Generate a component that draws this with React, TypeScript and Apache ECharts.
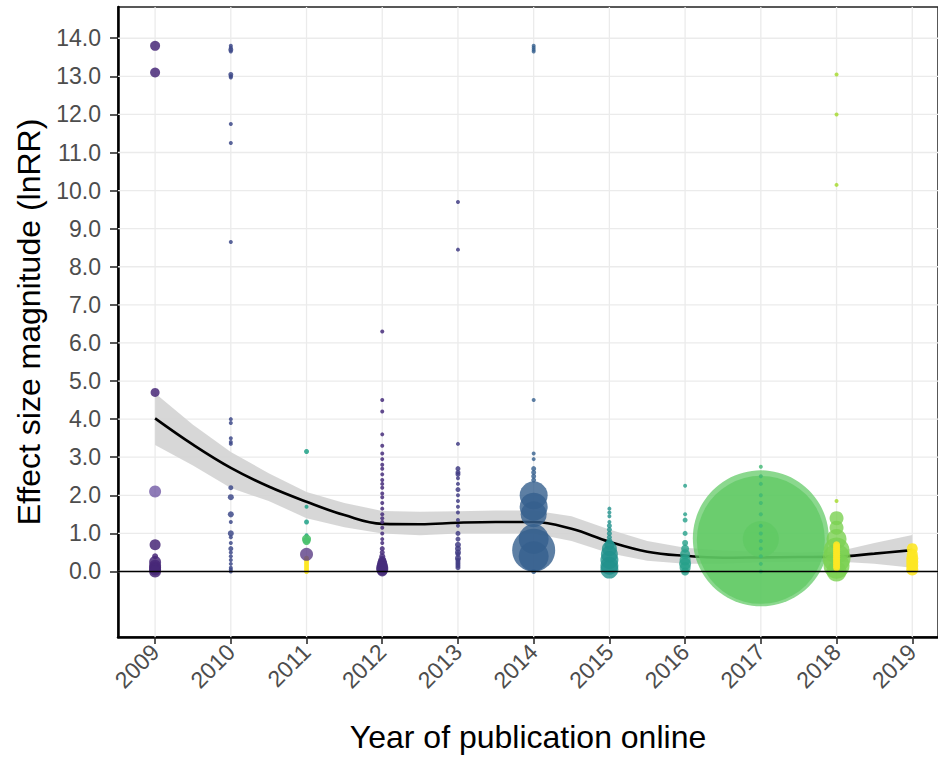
import React, { useEffect, useRef } from "react";
import * as echarts from "echarts";

const FONT = "'Liberation Sans', Arial, sans-serif";

const years = [2009, 2010, 2011, 2012, 2013, 2014, 2015, 2016, 2017, 2018, 2019];
const yTicks = [0, 1, 2, 3, 4, 5, 6, 7, 8, 9, 10, 11, 12, 13, 14];

// loess fit and confidence band
const fitX = [2009, 2009.5, 2010, 2010.5, 2011, 2011.5, 2012, 2012.5, 2013, 2013.5, 2014, 2014.5, 2015, 2015.5, 2016, 2016.5, 2017, 2017.5, 2018, 2018.5, 2019];
const fitY = [4.02, 3.33, 2.72, 2.23, 1.83, 1.48, 1.25, 1.24, 1.28, 1.3, 1.3, 1.12, 0.78, 0.52, 0.41, 0.36, 0.37, 0.38, 0.39, 0.47, 0.56];
const fitUpper = [4.68, 3.85, 3.14, 2.58, 2.09, 1.8, 1.59, 1.57, 1.58, 1.6, 1.6, 1.45, 1.1, 0.8, 0.62, 0.55, 0.52, 0.5, 0.52, 0.75, 0.96];
const fitLower = [3.32, 2.78, 2.19, 1.85, 1.4, 1.16, 1.0, 0.95, 1.0, 1.0, 1.0, 0.8, 0.48, 0.28, 0.2, 0.2, 0.24, 0.25, 0.26, 0.2, 0.1];

// effect sizes (lnRR) and point sizes per study group
const g2009Vals = [13.8, 13.1, 4.7, 0.7, 0.4, 0.25, 0.15, 0.1, 0.05, 0.0];
const g2009Size = [10, 10, 9, 11, 6, 12, 12, 12, 12, 12];
const g2009bVals = [2.1];
const g2009bSize = [12];

const g2010Vals = [13.8, 13.75, 13.7, 13.65, 13.05, 13.0, 12.97, 11.75, 11.25, 8.65, 4.0, 3.9, 3.5, 3.4, 3.35, 2.2, 1.95, 1.5, 1.3, 1.0, 0.9, 0.75, 0.6, 0.5, 0.4, 0.3, 0.2, 0.1, 0.05, 0.0];
const g2010Size = [4, 4, 5, 4, 5, 4, 4, 4, 4, 4, 4, 4, 4, 4, 4, 5, 6, 6, 4, 6, 4, 4, 5, 4, 4, 4, 4, 4, 4, 4];

const g2011aVals = [3.15, 1.7, 1.3, 0.95];
const g2011aSize = [5, 4, 5, 4];
const g2011bVals = [0.85, 0.8];
const g2011bSize = [9, 8];
const g2011cVals = [0.0, 0.05, 0.1, 0.15, 0.2, 0.25, 0.3, 0.35];
const g2011cSize = [5, 5, 5, 5, 5, 5, 5, 5];
const g2011dVals = [0.45];
const g2011dSize = [13];

const g2012Vals = [6.3, 4.5, 4.2, 3.6, 3.3, 3.1, 2.95, 2.8, 2.7, 2.55, 2.4, 2.3, 2.2, 2.05, 1.95, 1.8, 1.65, 1.5, 1.4, 1.3, 1.15, 1.0, 0.85, 0.75, 0.6, 0.5, 0.4, 0.3, 0.25, 0.2, 0.15, 0.1, 0.05, 0.0];
const g2012Size = [4, 4, 4, 4, 4, 4, 4, 4, 4, 4, 4, 4, 4, 4, 4, 4, 4, 4, 4, 4, 4, 4, 4, 4, 5, 5, 6, 8, 9, 10, 11, 12, 12, 10];

const g2013Vals = [9.7, 8.45, 3.35, 2.7, 2.6, 2.55, 2.45, 2.3, 2.15, 2.0, 1.85, 1.7, 1.55, 1.35, 1.2, 1.0, 0.85, 0.7, 0.6, 0.5, 0.45, 0.35, 0.3, 0.25, 0.2, 0.15, 0.1];
const g2013Size = [4, 4, 4, 5, 5, 5, 4, 4, 5, 4, 4, 4, 4, 4, 4, 5, 5, 6, 6, 6, 5, 6, 5, 5, 5, 5, 5];

const g2014Vals = [13.8, 13.75, 13.7, 13.65, 4.5, 3.1, 2.95, 2.7, 2.6, 2.5, 2.4, 2.0, 1.7, 1.5, 0.85, 0.56, 0.4, 0.0];
const g2014Size = [4, 4, 4, 4, 4, 4, 4, 5, 5, 5, 5, 28, 28, 26, 30, 43, 30, 5];

const g2015Vals = [1.65, 1.55, 1.45, 1.3, 1.2, 1.1, 1.0, 0.9, 0.8, 0.7, 0.6, 0.45, 0.3, 0.15, 0.05];
const g2015Size = [4, 4, 4, 4, 5, 5, 5, 5, 6, 10, 15, 17, 18, 18, 18];

const g2016Vals = [2.25, 1.5, 1.35, 1.0, 0.75, 0.6, 0.45, 0.3, 0.2, 0.1, 0.0];
const g2016Size = [4, 4, 5, 5, 6, 8, 10, 11, 12, 11, 8];

const g2017aVals = [0.87, 0.83, 0.85];
const g2017aSize = [136, 128, 36];
const g2017bVals = [2.75, 2.5, 2.3, 2.0, 1.8, 1.5, 1.2, 1.0, 0.8, 0.6, 0.4, 0.2, 0.0];
const g2017bSize = [4, 4, 4, 4, 4, 4, 4, 4, 4, 4, 4, 4, 4];

const g2018aVals = [1.4, 1.15, 0.85, 0.55, 0.35, 0.15, 0.0];
const g2018aSize = [14, 14, 20, 26, 28, 26, 20];
const g2018bVals = [13.05, 12.0, 10.15, 1.85];
const g2018bSize = [4, 4, 4, 4];
const g2018cVals = [0.1, 0.15, 0.2, 0.25, 0.3, 0.35, 0.4, 0.45, 0.5, 0.55, 0.6, 0.65, 0.7];
const g2018cSize = [7, 7, 7, 7, 7, 7, 7, 7, 7, 7, 7, 7, 7];

const g2019Vals = [0.6, 0.45, 0.35, 0.25, 0.15, 0.05];
const g2019Size = [11, 11, 12, 12, 12, 12];

type Group = { year: number; vals: number[]; sizes: number[]; color: string; opacity: number };

const groups: Group[] = [
  { year: 2009, vals: g2009Vals, sizes: g2009Size, color: "#482878", opacity: 0.85 },
  { year: 2009, vals: g2009bVals, sizes: g2009bSize, color: "#6a50a0", opacity: 0.75 },
  { year: 2010, vals: g2010Vals, sizes: g2010Size, color: "#3e4a89", opacity: 0.85 },
  { year: 2011, vals: g2011cVals, sizes: g2011cSize, color: "#fde725", opacity: 0.9 },
  { year: 2011, vals: g2011aVals, sizes: g2011aSize, color: "#1fa187", opacity: 0.85 },
  { year: 2011, vals: g2011bVals, sizes: g2011bSize, color: "#4ac16d", opacity: 0.9 },
  { year: 2011, vals: g2011dVals, sizes: g2011dSize, color: "#5b3d86", opacity: 0.8 },
  { year: 2012, vals: g2012Vals, sizes: g2012Size, color: "#472d7b", opacity: 0.85 },
  { year: 2013, vals: g2013Vals, sizes: g2013Size, color: "#433e85", opacity: 0.85 },
  { year: 2014, vals: g2014Vals, sizes: g2014Size, color: "#355f8d", opacity: 0.8 },
  { year: 2015, vals: g2015Vals, sizes: g2015Size, color: "#21918c", opacity: 0.8 },
  { year: 2016, vals: g2016Vals, sizes: g2016Size, color: "#26a08a", opacity: 0.8 },
  { year: 2017, vals: g2017aVals, sizes: g2017aSize, color: "#5ec962", opacity: 0.72 },
  { year: 2017, vals: g2017bVals, sizes: g2017bSize, color: "#3fb873", opacity: 0.8 },
  { year: 2018, vals: g2018aVals, sizes: g2018aSize, color: "#7ad151", opacity: 0.8 },
  { year: 2018, vals: g2018bVals, sizes: g2018bSize, color: "#a8db34", opacity: 0.85 },
  { year: 2018, vals: g2018cVals, sizes: g2018cSize, color: "#fde725", opacity: 0.9 },
  { year: 2019, vals: g2019Vals, sizes: g2019Size, color: "#fde725", opacity: 0.9 },
];

const X_MIN = 2008.51;
const X_MAX = 2019.34;
const Y_MIN = -1.72;
const Y_MAX = 14.82;

export default function App() {
  const ref = useRef<HTMLDivElement>(null);
  useEffect(() => {
    if (!ref.current) return;
    const chart = echarts.init(ref.current, null, { renderer: "svg" });

    const scatterSeries = groups.map((g) => ({
      type: "scatter",
      z: 5,
      data: g.vals.map((v, i) => [g.year, v, g.sizes[i]]),
      symbolSize: (d: number[]) => d[2],
      itemStyle: { color: g.color, opacity: g.opacity },
      silent: true,
    }));

    const option: any = {
      animation: false,
      backgroundColor: "#ffffff",
      grid: { left: 118, right: -3, top: 7, bottom: 121, show: true, borderColor: "#222", borderWidth: 1.5 },
      xAxis: {
        type: "value",
        min: X_MIN,
        max: X_MAX,
        name: "Year of publication online",
        nameLocation: "middle",
        nameGap: 84,
        nameTextStyle: { fontSize: 32, color: "#000", fontFamily: FONT },
        axisLine: { show: true, onZero: false, lineStyle: { color: "#000", width: 2.5 } },
        axisTick: { show: true, customValues: years, length: 7, lineStyle: { color: "#222", width: 1.5 } },
        axisLabel: {
          customValues: years,
          rotate: 45,
          fontSize: 23,
          color: "#4d4d4d",
          margin: 11,
          fontFamily: FONT,
          formatter: (v: number) => String(Math.round(v)),
        },
        splitLine: { show: false },
      },
      yAxis: {
        type: "value",
        min: Y_MIN,
        max: Y_MAX,
        name: "Effect size magnitude (lnRR)",
        nameLocation: "middle",
        nameGap: 73,
        nameTextStyle: { fontSize: 32, color: "#000", fontFamily: FONT },
        axisLine: { show: true, onZero: false, lineStyle: { color: "#000", width: 2.5 } },
        axisTick: { show: true, customValues: yTicks, length: 8, lineStyle: { color: "#222", width: 1.5 } },
        axisLabel: {
          customValues: yTicks,
          fontSize: 23,
          color: "#4d4d4d",
          margin: 17,
          fontFamily: FONT,
          formatter: (v: number) => v.toFixed(1),
        },
        splitLine: { show: false },
      },
      series: [
        {
          // grid lines
          type: "custom",
          silent: true,
          z: 1,
          data: [0],
          renderItem: (params: any, api: any) => {
            const children: any[] = [];
            const top = api.coord([X_MIN, Y_MAX])[1];
            const bottom = api.coord([X_MIN, Y_MIN])[1];
            const left = api.coord([X_MIN, 0])[0];
            const right = api.coord([X_MAX, 0])[0];
            years.forEach((yr) => {
              const x = api.coord([yr, 0])[0];
              children.push({ type: "line", shape: { x1: x, y1: top, x2: x, y2: bottom }, style: { stroke: "#ebebeb", lineWidth: 1.3 } });
            });
            yTicks.forEach((t) => {
              const y = api.coord([X_MIN, t])[1];
              children.push({ type: "line", shape: { x1: left, y1: y, x2: right, y2: y }, style: { stroke: "#ebebeb", lineWidth: 1.3 } });
            });
            return { type: "group", children };
          },
        },
        {
          // confidence band
          type: "custom",
          silent: true,
          z: 2,
          data: [0],
          renderItem: (params: any, api: any) => {
            const pts: number[][] = [];
            fitX.forEach((x, i) => pts.push(api.coord([x, fitUpper[i]])));
            for (let i = fitX.length - 1; i >= 0; i--) pts.push(api.coord([fitX[i], fitLower[i]]));
            return { type: "polygon", shape: { points: pts }, style: { fill: "#d3d3d3", opacity: 0.9 } };
          },
        },
        {
          type: "line",
          z: 3,
          silent: true,
          data: fitX.map((x, i) => [x, fitY[i]]),
          smooth: 0.4,
          showSymbol: false,
          symbol: "none",
          lineStyle: { color: "#000", width: 2.6 },
        },
        ...scatterSeries,
        {
          type: "line",
          z: 6,
          silent: true,
          data: [[X_MIN, 0], [X_MAX, 0]],
          showSymbol: false,
          symbol: "none",
          lineStyle: { color: "#000", width: 1.5 },
        },
      ],
    };
    chart.setOption(option);
    return () => chart.dispose();
  }, []);
  return <div ref={ref} style={{ width: 938, height: 758, position: "absolute", left: 0, top: 0 }} />;
}
